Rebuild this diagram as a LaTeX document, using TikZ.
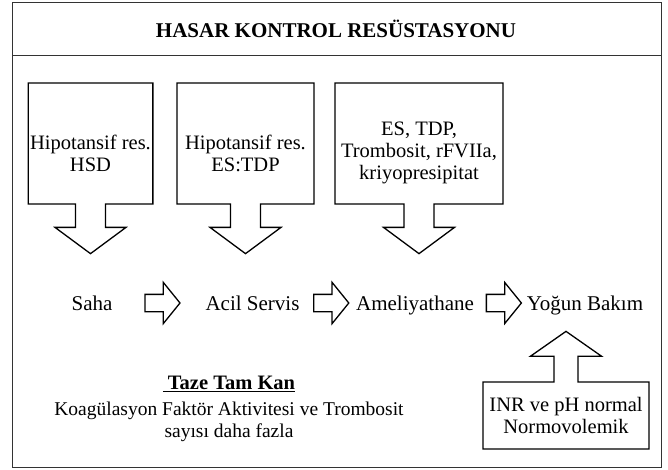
\documentclass[tikz,border=0pt]{standalone}
\usepackage{fontspec}
\setmainfont{Liberation Serif}
\usetikzlibrary{shapes.arrows,calc}
\tikzset{
  callout/.style={draw, line width=1.3pt, arrow box, align=center, inner sep=2pt,
    font=\fontsize{20.5}{22}\selectfont},
  downcall/.style={callout, minimum height=121pt, arrow box arrows={south:49pt},
    arrow box shaft width=30pt, arrow box head extend=20.5pt, arrow box tip angle=107},
  upcall/.style={callout, minimum height=67pt, arrow box arrows={north:50pt},
    arrow box shaft width=24pt, arrow box head extend=23.5pt, arrow box tip angle=110},
  place/.style={font=\fontsize{21}{24}\selectfont, inner sep=0pt, text height=14pt, text depth=0pt},
  flowarrow/.style={draw, line width=1.3pt, single arrow, minimum height=35pt, inner sep=8pt,
    single arrow head extend=12pt, single arrow tip angle=102}
}
\begin{document}
\begin{tikzpicture}[x=1pt,y=-1pt]
  \useasboundingbox (0,0) rectangle (668,470);
  \node (frame) [draw, line width=0.8pt, black!80, minimum width=649pt, minimum height=465pt,
    inner sep=0pt, anchor=north west] at (12,2) {};
  \draw [line width=0.8pt, black!80] (frame.west |- 0,55) -- (frame.east |- 0,55);
  \node (baslik) [font=\bfseries\fontsize{21}{24}\selectfont, inner sep=0pt, text height=13pt, text depth=0pt]
    at (336,31.5) {HASAR KONTROL RESÜSTASYONU};
  \node (hsd) [downcall, minimum width=123pt, text height=56pt] at (90.5,143.5) {Hipotansif res.\\HSD};
  \node (estdp) [downcall, minimum width=137pt, text height=56pt] at (245.5,143.5) {Hipotansif res.\\ES:TDP};
  \node (urun) [downcall, minimum width=168pt, text height=76pt] at (419,143.5) {ES, TDP,\\Trombosit, rFVIIa,\\kriyopresipitat};
  \node (saha) [place] at (92,303) {Saha};
  \node (acil) [place] at (252.5,303) {Acil Servis};
  \node (amel) [place] at (415,303) {Ameliyathane};
  \node (yogun) [place] at (585,303) {Yoğun Bakım};
  \node (ok1) [flowarrow] at ($(saha.east)!0.5!(acil.west)$) {};
  \node (ok2) [flowarrow] at ($(acil.east)!0.5!(amel.west)$) {};
  \node (ok3) [flowarrow] at ($(amel.east)!0.5!(yogun.west)$) {};
  \node (kan) [align=center, font=\fontsize{19.5}{22}\selectfont] at (229,409)
    {{\fontsize{20.5}{22}\selectfont\underline{\hspace{5pt}\textbf{Taze Tam Kan}}}\\[4pt]
     Koagülasyon Faktör Aktivitesi ve Trombosit\\sayısı daha fazla};
  \node (inr) [upcall, minimum width=166pt] at (566,415.5) {INR ve pH normal\\Normovolemik};
\end{tikzpicture}
\end{document}
